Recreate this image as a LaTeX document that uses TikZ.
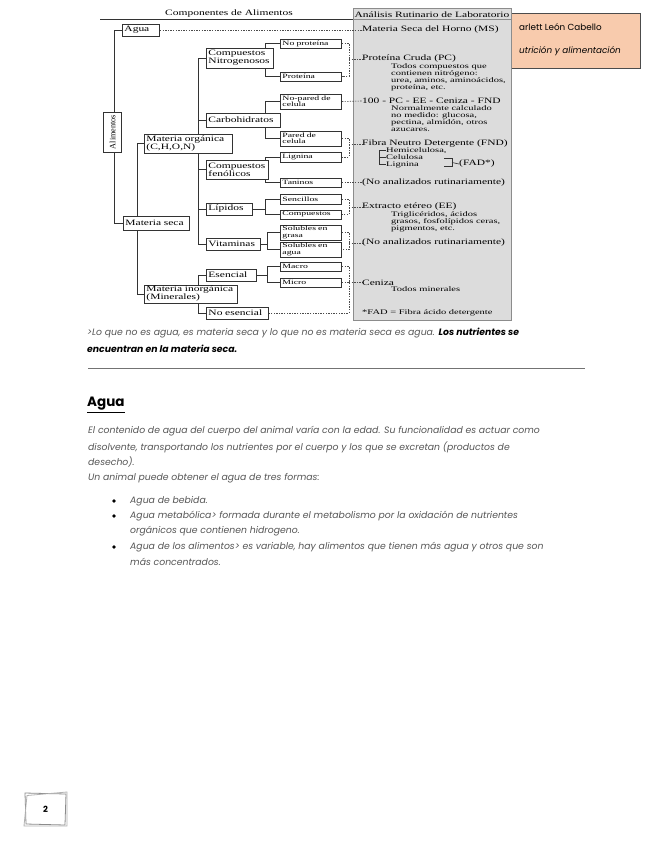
\documentclass[tikz,border=0pt]{standalone}
\usepackage{fontspec}
\setmainfont{Liberation Serif}
\newfontfamily\dfont{Liberation Serif}[FakeStretch=1.4]
\newfontfamily\sfont{Liberation Serif}[FakeStretch=1.5]
\newfontfamily\pfont{Poppins}
\newcommand\fA{\dfont\fontsize{8.2}{8}\selectfont}
\newcommand\fB{\sfont\fontsize{6.5}{6.3}\selectfont}
\newcommand\fC{\sfont\fontsize{7}{7}\selectfont}
\newcommand\fP{\pfont\itshape\fontsize{9.3}{11}\selectfont}
\definecolor{boxc}{HTML}{333333}
\definecolor{panelfill}{HTML}{DCDCDC}
\definecolor{panelline}{HTML}{8C8C8C}
\definecolor{orangef}{HTML}{F8CBAD}
\definecolor{txtgray}{HTML}{555555}
\pgfdeclarelayer{back}
\pgfdeclarelayer{mid}
\pgfsetlayers{back,mid,main}
\newcommand\bx[7]{%
  \pgfmathsetmacro\bxw{#4-#2-4}%
  \pgfmathsetmacro\bxh{#5-#3}%
  \pgfmathsetmacro\bxy{(#3+#5)/2}%
  \node[bxs, font=#6, text width=\bxw pt, minimum height=\bxh pt, anchor=west] (#1) at (#2,\bxy) {#7};}
\tikzset{
  bxs/.style={draw=boxc, fill=white, line width=0.95pt, inner xsep=2pt, inner ysep=0pt, align=left},
  conn/.style={draw=boxc, line width=0.9pt},
  dsh/.style={draw=black!70, line width=0.6pt, dash pattern=on 1.4pt off 1.2pt},
  ptxt/.style={anchor=west, inner sep=0pt, font=\fA},
  psub/.style={anchor=north west, inner sep=0pt, align=left, font=\fC},
  body/.style={anchor=west, inner sep=0pt, font=\fP, text=txtgray},
  bul/.style={circle, fill=black, inner sep=0pt, minimum size=3.6pt}
}
\begin{document}
\begin{tikzpicture}[x=1pt,y=-1pt]
\useasboundingbox (0,0) rectangle (655,848);
\begin{pgfonlayer}{back}
\fill[white] (0,0) rectangle (655,848);
\draw[fill=orangef, draw=black!70, line width=0.9pt] (509,13) rectangle (640,68);
\fill[panelfill] (353,9) rectangle (511,320);
\draw[panelline, line width=1pt] (353,9) rectangle (511,320);
\draw[panelline, line width=0.8pt] (353,19.5) -- (511,19.5);
\draw[boxc, line width=0.7pt] (100,19.5) -- (353,19.5);
\end{pgfonlayer}
% orange name box texts
\node[anchor=west, inner sep=0pt, font=\pfont\fontsize{8.8}{9}\selectfont] (autor) at (519,27) {arlett León Cabello};
\node[anchor=west, inner sep=0pt, font=\pfont\itshape\fontsize{8.8}{9}\selectfont] (curso) at (519,51) {utrición y alimentación};
\node[inner sep=0pt, font=\fA] (titulo) at (229,14) {Componentes de Alimentos};
\node[inner sep=0pt, font=\fA] (analisis) at (432,14.5) {Análisis Rutinario de Laboratorio};
% panel texts
\node[ptxt] (ms) at (362,30) {Materia Seca del Horno (MS)};
\node[ptxt] (pc) at (362,59) {Proteína Cruda (PC)};
\node[psub] (pcsub) at (391,63.5) {Todos compuestos que\\contienen nitrógeno:\\urea, aminos, aminoácidos,\\proteína, etc.};
\node[ptxt] (calc) at (362,101) {100 - PC - EE - Ceniza - FND};
\node[psub] (calcsub) at (391,105) {Normalmente calculado\\no medido: glucosa,\\pectina, almidón, otros\\azucares.};
\node[ptxt] (fnd) at (362,144) {Fibra Neutro Detergente (FND)};
\node[anchor=west, inner sep=0pt, font=\fC] (hemi) at (386,150.5) {Hemicelulosa,};
\node[anchor=west, inner sep=0pt, font=\fC] (celu) at (386,157.5) {Celulosa};
\node[anchor=west, inner sep=0pt, font=\fC] (lignp) at (386,164.5) {Lignina};
\node[ptxt] (fad) at (459,164) {(FAD*)};
\node[ptxt] (na1) at (362,182.5) {(No analizados rutinariamente)};
\node[ptxt] (ee) at (362,207) {Extracto etéreo (EE)};
\node[psub] (eesub) at (391,211.5) {Triglicéridos, ácidos\\grasos, fosfolípidos ceras,\\pigmentos, etc.};
\node[ptxt] (na2) at (362,243) {(No analizados rutinariamente)};
\node[ptxt] (cen) at (362,282.5) {Ceniza};
\node[anchor=west, inner sep=0pt, font=\fC] (censub) at (391,289.5) {Todos minerales};
\node[anchor=west, inner sep=0pt, font=\fC] (fadnota) at (362,313) {*FAD = Fibra ácido detergente};
% FAD brackets
\draw[black!80, line width=0.6pt] (hemi.west) -- ++(-7,0) |- (lignp.west);
\draw[black!80, line width=0.6pt] (celu.west) -- ++(-7,0);
\draw[black!80, line width=0.6pt] (444,158.5) -- (452,158.5) -- (452,166) -- (444,166);
\draw[black!80, line width=0.6pt] (452,162.5) -- (fad.west);
% boxes
\bx{agua}{122}{24}{159}{36}{\fA}{Agua}
\bx{mseca}{123}{216}{189}{230}{\fA}{Materia seca}
\bx{morg}{144}{134}{232}{153}{\fA}{Materia orgánica\\(C,H,O,N)}
\bx{minorg}{144}{285}{237}{303}{\fA}{Materia inorgánica\\(Minerales)}
\bx{cn}{206}{48}{273}{68}{\fA}{Compuestos\\Nitrogenosos}
\bx{carb}{206}{113}{280}{127}{\fA}{Carbohidratos}
\bx{fen}{206}{160}{268}{179}{\fA}{Compuestos\\fenólicos}
\bx{lip}{206}{203}{252}{215}{\fA}{Lípidos}
\bx{vit}{206}{238}{260}{250}{\fA}{Vitaminas}
\bx{esen}{206}{269}{256}{281}{\fA}{Esencial}
\bx{noes}{206}{307}{268}{319}{\fA}{No esencial}
\bx{noprot}{280}{39}{341}{48}{\fB}{No proteína}
\bx{prot}{280}{72}{341}{81}{\fB}{Proteína}
\bx{nopared}{280}{94}{341}{109}{\fB}{No-pared de\\celula}
\bx{pared}{280}{131}{341}{146}{\fB}{Pared de\\celula}
\bx{lign}{280}{152}{341}{162}{\fB}{Lignina}
\bx{tan}{280}{178}{341}{187}{\fB}{Taninos}
\bx{sen}{280}{194}{341}{204}{\fB}{Sencillos}
\bx{comp}{280}{210}{341}{219}{\fB}{Compuestos}
\bx{sgr}{280}{225}{341}{240}{\fB}{Solubles en\\grasa}
\bx{sag}{280}{242}{341}{257}{\fB}{Solubles en\\agua}
\bx{macro}{280}{262}{341}{271}{\fB}{Macro}
\bx{micro}{280}{278}{341}{287}{\fB}{Micro}
\node[draw=boxc, fill=white, line width=0.95pt, minimum width=18pt, minimum height=40pt, inner sep=0pt, font=\fontsize{8.2}{8}\selectfont] (alim) at (112.5,132) {\rotatebox{90}{Alimentos}};
% connectors
\begin{pgfonlayer}{mid}
\draw[conn] (agua.west) -- ++(-8,0) |- (mseca.west);
\draw[conn] (morg.west) -- ++(-7,0) |- (minorg.west);
\draw[conn] (cn.west) -- ++(-8,0) |- (vit.west);
\draw[conn] (carb.west) -- ++(-8,0);
\draw[conn] (fen.west) -- ++(-8,0);
\draw[conn] (lip.west) -- ++(-8,0);
\draw[conn] (esen.west) -- ++(-8,0) |- (noes.west);
\draw[conn] (noprot.west) -- ++(-15,0) |- (prot.west);
\draw[conn] (nopared.west) -- ++(-15,0) |- (pared.west);
\draw[conn] (lign.west) -- ++(-15,0) |- (tan.west);
\draw[conn] (sen.west) -- ++(-15,0) |- (comp.west);
\draw[conn] (lip.east) -- ++(13,0);
\draw[conn] (sgr.west) -- ++(-13,0) |- (sag.west);
\draw[conn] (vit.east) -- ++(7,0);
\draw[conn] (macro.west) -- ++(-13,0) |- (micro.west);
\draw[conn] (esen.east) -- ++(11,0);
% dotted links to the panel
\draw[dsh] (agua.east) -- (ms.west);
\draw[dsh] (noprot.east) -- ++(7,0) coordinate (q1) |- (prot.east);
\draw[dsh] (q1 |- pc.west) -- (pc.west);
\draw[dsh] (nopared.east) -- (calc.west);
\draw[dsh] (pared.east) -- ++(7,0) coordinate (q2) |- (lign.east);
\draw[dsh] (q2 |- fnd.west) -- (fnd.west);
\draw[dsh] (tan.east) -- (na1.west);
\draw[dsh] (sen.east) -- ++(7,0) coordinate (q3) |- (comp.east);
\draw[dsh] (q3 |- ee.west) -- (ee.west);
\draw[dsh] (sgr.east) -- ++(7,0) coordinate (q4) |- (sag.east);
\draw[dsh] (q4 |- na2.west) -- (na2.west);
\draw[dsh] (macro.east) -- ++(7,0) coordinate (q5) |- (noes.east);
\draw[dsh] (micro.east) -- (micro.east -| q5);
\draw[dsh] (q5 |- cen.west) -- (cen.west);
\end{pgfonlayer}
% body text
\node[body] (t1) at (87,333) {>Lo que no es agua, es materia seca y lo que no es materia seca es agua. {\bfseries\color{black}Los nutrientes se}};
\node[body, text=black] (t2) at (87,349) {\bfseries encuentran en la materia seca.};
\draw[black!55, line width=1pt] (88,368) -- (585,368);
\node[anchor=west, inner sep=0pt, font=\pfont\bfseries\fontsize{13.5}{14}\selectfont] (agh) at (87,405) {\underline{Agua}};
\node[body] (p1) at (88,431) {El contenido de agua del cuerpo del animal varía con la edad. Su funcionalidad es actuar como};
\node[body] (p2) at (88,447) {disolvente, transportando los nutrientes por el cuerpo y los que se excretan (productos de};
\node[body] (p3) at (88,462) {desecho).};
\node[body] (p4) at (88,478) {Un animal puede obtener el agua de tres formas:};
\node[bul] (b1) at (114,501) {};
\node[bul] (b2) at (114,516) {};
\node[bul] (b3) at (114,547) {};
\node[body] (l1) at (130,501) {Agua de bebida.};
\node[body] (l2) at (130,516) {Agua metabólica> formada durante el metabolismo por la oxidación de nutrientes};
\node[body] (l3) at (130,531) {orgánicos que contienen hidrogeno.};
\node[body] (l4) at (130,547) {Agua de los alimentos> es variable, hay alimentos que tienen más agua y otros que son};
\node[body] (l5) at (130,562) {más concentrados.};
% page number box
\draw[black!45, line width=0.8pt] (25,793) -- (66,794) -- (65,825) -- (26,824) -- cycle;
\draw[black!30, line width=0.8pt] (27,795.5) -- (67,792) -- (67,826) -- (24,826) -- cycle;
\node[inner sep=0pt, font=\pfont\bfseries\fontsize{8.5}{9}\selectfont] (pagina) at (45.5,809) {2};
\end{tikzpicture}
\end{document}
